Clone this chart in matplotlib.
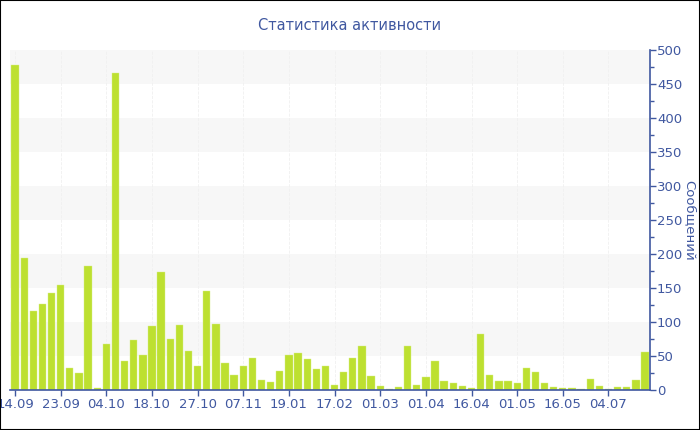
import matplotlib
matplotlib.use("Agg")
import matplotlib.pyplot as plt
from matplotlib.patches import Rectangle

# Даты (подписи каждые 5 столбцов) и количество сообщений
tick_labels = ["14.09", "23.09", "04.10", "18.10", "27.10", "07.11", "19.01",
               "17.02", "01.03", "01.04", "16.04", "01.05", "16.05", "04.07"]
messages = [478, 194, 116, 126, 143, 154, 33, 25, 182, 3,
            68, 466, 42, 74, 52, 94, 173, 75, 95, 57,
            35, 146, 97, 39, 22, 35, 47, 14, 12, 28,
            51, 54, 45, 31, 36, 8, 27, 47, 64, 20,
            6, 2, 4, 64, 7, 19, 42, 13, 11, 6,
            3, 82, 22, 13, 13, 10, 33, 27, 11, 4,
            3, 3, 2, 16, 6, 2, 4, 5, 15, 56]

BLUE = "#4058a0"
BAR = "#bde030"

fig = plt.figure(figsize=(7, 4.3), dpi=100)
ax = fig.add_axes([0.0143, 0.093, 0.9143, 0.7907])

# Чередующиеся полосы фона
for lo in range(50, 500, 100):
    ax.axhspan(lo, lo + 50, color="#f7f7f7", zorder=0, lw=0)

x = list(range(len(messages)))
ax.bar(x, messages, width=0.8, color=BAR, edgecolor="#d8ee8a", linewidth=0.3, zorder=2)

# Слабые вертикальные линии сетки
for t in range(0, len(messages), 5):
    ax.axvline(t, color="#f0f0f0", lw=0.6, ls="--", zorder=1)

ax.set_xlim(-0.55, 69.55)
ax.set_ylim(0, 500)
ax.set_xticks(range(0, len(messages), 5))
ax.set_xticklabels(tick_labels)
ax.set_yticks(range(0, 501, 50))
ax.set_yticks(range(25, 500, 50), minor=True)

ax.yaxis.tick_right()

for s in ["top", "left"]:
    ax.spines[s].set_visible(False)
for s in ["bottom", "right"]:
    ax.spines[s].set_color(BLUE)
    ax.spines[s].set_linewidth(1.2)

ax.tick_params(axis="both", colors=BLUE, labelsize=9.5, length=4, width=1)
ax.tick_params(axis="y", which="minor", colors=BLUE, length=3, width=1)
ax.tick_params(axis="y", pad=1)
ax.tick_params(axis="x", pad=2)

fig.text(0.5, 0.94, "Статистика активности", ha="center", va="center",
         color=BLUE, fontsize=10.5)
# Подпись оси Y справа
fig.text(0.985, 0.488, "Сообщений", ha="center", va="center", rotation=270,
         color=BLUE, fontsize=9.5)

# Рамка вокруг картинки
fig.patches.append(Rectangle((0, 0), 1, 1, transform=fig.transFigure,
                             fill=False, edgecolor="black", lw=1.5))

fig.savefig("out.png", dpi=100)
